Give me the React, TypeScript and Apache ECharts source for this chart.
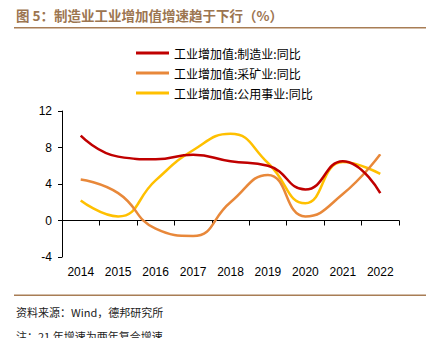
import React, { useEffect, useRef } from "react";
import * as echarts from "echarts";

const years = ["2014", "2015", "2016", "2017", "2018", "2019", "2020", "2021", "2022"];
const manufacturing = [9.3, 7.0, 6.7, 7.2, 6.5, 6.0, 3.4, 6.5, 3.0];
const mining = [4.5, 3.0, -0.9, -1.7, 2.0, 5.0, 0.45, 2.9, 7.25];
const utilities = [2.2, 0.45, 4.4, 7.7, 9.5, 6.3, 1.9, 6.4, 5.1];
const seriesNames = ["工业增加值:制造业:同比", "工业增加值:采矿业:同比", "工业增加值:公用事业:同比"];
const colors = ["#C00000", "#E8883A", "#FFC000"];

const CJK = "'Noto Sans CJK SC', sans-serif";
const LATIN = "'Liberation Sans', Arial, sans-serif";

export default function App() {
  const ref = useRef<HTMLDivElement>(null);
  useEffect(() => {
    if (!ref.current) return;
    const chart = echarts.init(ref.current, null, { renderer: "svg" });
    const data = [manufacturing, mining, utilities];
    chart.setOption({
      animation: false,
      backgroundColor: "#fff",
      grid: { left: 62, right: 46, top: 111, bottom: 81 },
      legend: {
        orient: "vertical",
        left: 131,
        top: 42,
        itemWidth: 33,
        itemHeight: 3,
        itemGap: 8,
        icon: "rect",
        textStyle: { fontFamily: CJK, fontSize: 12, color: "#000" },
        data: seriesNames,
      },
      xAxis: [
        {
          type: "category",
          data: years,
          position: "bottom",
          boundaryGap: true,
          axisLine: { show: true, onZero: true, lineStyle: { color: "#000", width: 1 } },
          axisTick: { show: true, length: 5, inside: false, lineStyle: { color: "#000" } },
          axisLabel: { show: false },
          splitLine: { show: false },
        },
        {
          type: "category",
          data: years,
          position: "bottom",
          boundaryGap: true,
          axisLine: { show: false, onZero: false },
          axisTick: { show: false },
          axisLabel: { show: true, margin: 9, fontFamily: LATIN, fontSize: 12, color: "#000" },
          splitLine: { show: false },
        },
      ],
      yAxis: {
        type: "value",
        min: -4,
        max: 12,
        interval: 4,
        axisLine: { show: true, lineStyle: { color: "#000", width: 1 } },
        axisTick: { show: true, length: 4, lineStyle: { color: "#000" } },
        axisLabel: { margin: 10, fontFamily: LATIN, fontSize: 12, color: "#000" },
        splitLine: { show: false },
      },
      series: seriesNames.map((name, i) => ({
        name,
        type: "line",
        xAxisIndex: 0,
        data: data[i],
        smooth: 0.5,
        showSymbol: false,
        symbol: "none",
        lineStyle: { color: colors[i], width: 2.5 },
        itemStyle: { color: colors[i] },
        z: 3 - i,
      })),
      graphic: [
        {
          type: "text",
          left: 16,
          top: 8,
          style: {
            text: "图 5：制造业工业增加值增速趋于下行（%）",
            fontFamily: CJK,
            fontSize: 13.5,
            fontWeight: "bold",
            fill: "#9C7550",
          },
        },
        {
          type: "rect",
          shape: { x: 14, y: 27, width: 412, height: 1.5 },
          style: { fill: "#A87D55" },
        },
        {
          type: "rect",
          shape: { x: 14, y: 294.5, width: 412, height: 1.5 },
          style: { fill: "#A87D55" },
        },
        {
          type: "text",
          left: 16,
          top: 306,
          style: {
            text: "资料来源：Wind，德邦研究所",
            fontFamily: CJK,
            fontSize: 11,
            fill: "#222",
          },
        },
        {
          type: "text",
          left: 16,
          top: 330,
          style: {
            text: "注：21 年增速为两年复合增速",
            fontFamily: CJK,
            fontSize: 11,
            fill: "#222",
          },
        },
      ],
    });
    return () => chart.dispose();
  }, []);
  return (
    <div
      ref={ref}
      style={{ position: "absolute", left: 0, top: 0, width: 445, height: 338, overflow: "hidden" }}
    />
  );
}
